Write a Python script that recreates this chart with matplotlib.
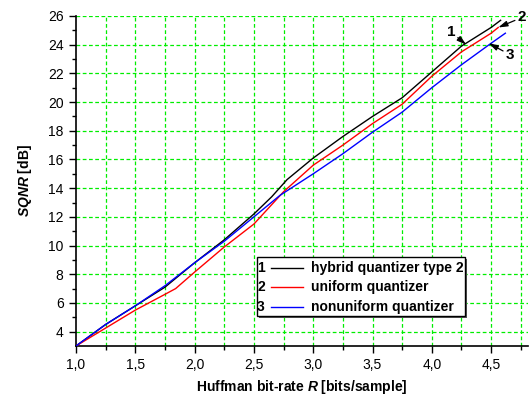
import numpy as np
import matplotlib
matplotlib.use('Agg')
import matplotlib.pyplot as plt
from matplotlib.patches import Rectangle
from matplotlib.ticker import FixedLocator, FixedFormatter

plt.rcParams['font.family'] = ['Liberation Sans', 'DejaVu Sans']
plt.rcParams['mathtext.fontset'] = 'custom'
plt.rcParams['mathtext.it'] = 'Liberation Sans:italic:bold'
plt.rcParams['mathtext.rm'] = 'Liberation Sans:bold'

# hybrid quantizer type 2
x_hybrid = [1.0, 1.25, 1.5, 1.75, 2.0, 2.25, 2.5, 2.65, 2.78, 3.0, 3.25, 3.5, 3.75, 4.0, 4.25, 4.5, 4.58]
y_hybrid = [3.0, 4.5, 5.8, 7.1, 8.8, 10.4, 12.2, 13.4, 14.6, 16.1, 17.6, 19.0, 20.3, 22.1, 23.9, 25.2, 25.7]

# uniform quantizer
x_uniform = [1.0, 1.25, 1.5, 1.75, 1.84, 2.0, 2.25, 2.5, 2.75, 3.0, 3.25, 3.5, 3.75, 4.0, 4.25, 4.5, 4.56]
y_uniform = [3.0, 4.25, 5.5, 6.6, 7.0, 8.15, 9.9, 11.5, 13.75, 15.6, 17.0, 18.5, 19.85, 21.8, 23.5, 24.8, 25.2]

# nonuniform quantizer
x_nonuni = [1.0, 1.25, 1.5, 1.75, 2.0, 2.25, 2.5, 2.72, 3.0, 3.25, 3.5, 3.75, 4.0, 4.25, 4.5, 4.62]
y_nonuni = [3.0, 4.5, 5.8, 7.2, 8.8, 10.3, 12.0, 13.5, 15.0, 16.4, 17.9, 19.3, 21.0, 22.6, 24.1, 24.8]

labels = ['hybrid quantizer type 2', 'uniform quantizer', 'nonuniform quantizer']
numbers = ['1', '2', '3']
colors = ['black', 'red', 'blue']

xticks = [1.0, 1.5, 2.0, 2.5, 3.0, 3.5, 4.0, 4.5]
xticklabels = ['1,0', '1,5', '2,0', '2,5', '3,0', '3,5', '4,0', '4,5']
xminor = [1.25, 1.75, 2.25, 2.75, 3.25, 3.75, 4.25, 4.75]
yticks = [4, 6, 8, 10, 12, 14, 16, 18, 20, 22, 24, 26]
yminor = [5, 7, 9, 11, 13, 15, 17, 19, 21, 23, 25]

fig = plt.figure(figsize=(5.3, 3.96), dpi=100)
ax = fig.add_axes([0.1434, 0.1263, 0.8526, 0.8333])

grid_kw = dict(color='#00ee00', lw=0.9, ls=(0, (3, 2)), zorder=0)
for gx in xticks[1:] + xminor:
    ax.axvline(gx, **grid_kw)
for gy in yticks:
    ax.axhline(gy, **grid_kw)

for xs, ys, c in zip([x_hybrid, x_uniform, x_nonuni], [y_hybrid, y_uniform, y_nonuni], colors):
    ax.plot(xs, ys, color=c, lw=1.0, zorder=3)

ax.set_xlim(1.0, 4.81)
ax.set_ylim(3, 26)
ax.xaxis.set_major_locator(FixedLocator(xticks))
ax.xaxis.set_major_formatter(FixedFormatter(xticklabels))
ax.xaxis.set_minor_locator(FixedLocator(xminor))
ax.yaxis.set_major_locator(FixedLocator(yticks))
ax.yaxis.set_minor_locator(FixedLocator(yminor))
ax.tick_params(which='major', direction='out', length=5, width=1, labelsize=10, pad=4)
ax.tick_params(which='minor', direction='out', length=3, width=1)
for s in ['top', 'right']:
    ax.spines[s].set_visible(False)
for s in ['left', 'bottom']:
    ax.spines[s].set_linewidth(1.2)

ax.set_xlabel('Huffman bit-rate $R$ [bits/sample]', fontsize=10, fontweight='bold', labelpad=4)
ax.set_ylabel('$SQNR$ [dB]', fontsize=10, fontweight='bold', labelpad=10)

# legend box drawn by hand
lx0, lx1, ly0, ly1 = 0.400, 0.861, 0.091, 0.270
ax.add_patch(Rectangle((lx0 + 0.004, ly0 - 0.006), lx1 - lx0, ly1 - ly0, transform=ax.transAxes,
                       facecolor='#555555', edgecolor='none', zorder=4))
ax.add_patch(Rectangle((lx0, ly0), lx1 - lx0, ly1 - ly0, transform=ax.transAxes,
                       facecolor='white', edgecolor='black', lw=1.0, zorder=5))
rows = [0.236, 0.179, 0.118]
for ry, num, lab, c in zip(rows, numbers, labels, colors):
    ax.text(0.409, ry, num, transform=ax.transAxes, ha='center', va='center',
            fontsize=10, fontweight='bold', zorder=6)
    ax.plot([0.431, 0.502], [ry, ry], transform=ax.transAxes, color=c, lw=1.0, zorder=6)
    ax.text(0.520, ry, lab, transform=ax.transAxes, ha='left', va='center',
            fontsize=10, fontweight='bold', zorder=6)

arrow_kw = dict(arrowstyle='-|>,head_length=0.5,head_width=0.15', color='black', lw=0.9,
                shrinkA=0, shrinkB=0)
ax.annotate('1', xy=(4.29, 24.0), xytext=(4.16, 24.9), fontsize=11, fontweight='bold',
            ha='center', va='center', arrowprops=arrow_kw, zorder=7)
ax.annotate('2', xy=(4.56, 25.2), xytext=(4.76, 25.9), fontsize=11, fontweight='bold',
            ha='center', va='center', arrowprops=arrow_kw, zorder=7)
ax.annotate('3', xy=(4.48, 24.1), xytext=(4.66, 23.3), fontsize=11, fontweight='bold',
            ha='center', va='center', arrowprops=arrow_kw, zorder=7)

fig.savefig('out.png', dpi=100)
